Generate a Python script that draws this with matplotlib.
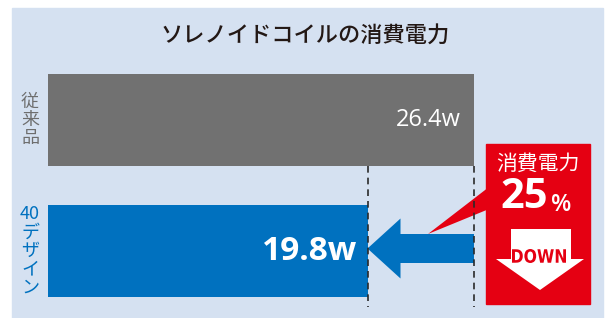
import re
import matplotlib.pyplot as plt
from matplotlib.patches import Rectangle, Polygon, PathPatch
from matplotlib.textpath import TextPath
from matplotlib.font_manager import FontProperties
from matplotlib.transforms import Affine2D

plt.rcParams['font.family'] = ['Noto Sans CJK JP', 'DejaVu Sans']

# data
categories = ['従来品', '40デザイン']
power_w = [26.4, 19.8]
value_labels = ['26.4w', '19.8w']
title = 'ソレノイドコイルの消費電力'
badge_title = '消費電力'
reduction_pct = '25'

W, H = 608, 318
bg_color = '#d5e1f1'
bar_colors = ['#717171', '#0071bf']
label_colors = ['#6e6e6e', '#0071bf']
red = '#e50012'
num_font = ['Open Sans', 'DejaVu Sans']

fig = plt.figure(figsize=(W / 100, H / 100), dpi=100)

# pixel overlay for panel, title and badge
px = fig.add_axes([0, 0, 1, 1])
px.set_xlim(0, W)
px.set_ylim(H, 0)
px.axis('off')
px.add_patch(Rectangle((12, 8), 591, 312, color=bg_color, zorder=0))
px.text(305, 36, title, ha='center', va='center', fontsize=16,
        color='#231815', fontweight='medium')

# data axes: value 0 at px 48, max at px 474, rows centred at px 120 / 251
x0, x1 = 48, 474
sx = (x1 - x0) / max(power_w)
y0, dy = 120, 131
ax = fig.add_axes([0, 0, 1, 1])
ax.set_xlim(-x0 / sx, (W - x0) / sx)
ax.set_ylim((H - y0) / dy, -y0 / dy)
ax.axis('off')
ax.patch.set_alpha(0)

bar_h = 92 / dy
rows = range(len(power_w))
ax.barh(rows, power_w, height=bar_h, color=bar_colors, zorder=2)

# value labels inside bars
ax.text(power_w[0] - 13 / sx, 0, value_labels[0], ha='right', va='center',
        color='white', fontsize=17, family=num_font, zorder=3)
ax.text(power_w[1] - 10 / sx, 1, value_labels[1], ha='right', va='center',
        color='white', fontsize=24, fontweight='bold', family=num_font, zorder=3)

# category labels, stacked vertically
step = 18.5
for i, cat in enumerate(categories):
    toks = re.findall(r'\d+|.', cat)
    for k, t in enumerate(toks):
        yy = i + (k - (len(toks) - 1) / 2) * step / dy
        ax.text(-18 / sx, yy, t, ha='center', va='center', fontsize=13,
                color=label_colors[i])

# dashed guides
ax.vlines(power_w, bar_h / 2, (307 - y0) / dy, colors='#2a2a2a',
          linestyles=(0, (4, 3)), lw=1.2, zorder=4)

# reduction arrow from old to new value
tip, tail = power_w[1], power_w[0]
hb = tip + 33 / sx
yc = (248.5 - y0) / dy
sh, hh = 14.5 / dy, 30 / dy
ax.add_patch(Polygon([(tail, yc - sh), (hb, yc - sh), (hb, yc - hh), (tip, yc),
                      (hb, yc + hh), (hb, yc + sh), (tail, yc + sh)],
                     closed=True, color=bar_colors[1], lw=0, zorder=3))

# red badge
px.add_patch(Rectangle((486, 144), 104, 160, color=red, zorder=5))
px.add_patch(Polygon([(428, 234), (489, 187), (489, 209)], closed=True,
                     color=red, lw=0, zorder=5))
px.text(538, 164, badge_title, ha='center', va='center', fontsize=15,
        color='white', zorder=6)
px.text(524, 197, reduction_pct, ha='center', va='center', fontsize=30,
        color='white', fontweight='bold', family=num_font, zorder=6)
px.text(561, 205, '%', ha='center', va='center', fontsize=17,
        color='white', fontweight='semibold', family=num_font, zorder=6)
px.add_patch(Polygon([(511, 229), (571, 229), (571, 259), (584, 259),
                      (540, 290), (496, 259), (511, 259)],
                     closed=True, color='white', lw=0, zorder=6))

# condensed bold "DOWN" drawn as a squeezed text path
tp = TextPath((0, 0), 'DOWN', size=20,
              prop=FontProperties(family='DejaVu Sans', weight='bold'))
ext = tp.get_extents()
tw, th = 54, 14
tr = (Affine2D().translate(-ext.x0 - ext.width / 2, -ext.y0 - ext.height / 2)
      .scale(tw / ext.width, -th / ext.height).translate(539, 256))
px.add_patch(PathPatch(tr.transform_path(tp), color=red, lw=0, zorder=7))

fig.savefig('out.png', dpi=100)
